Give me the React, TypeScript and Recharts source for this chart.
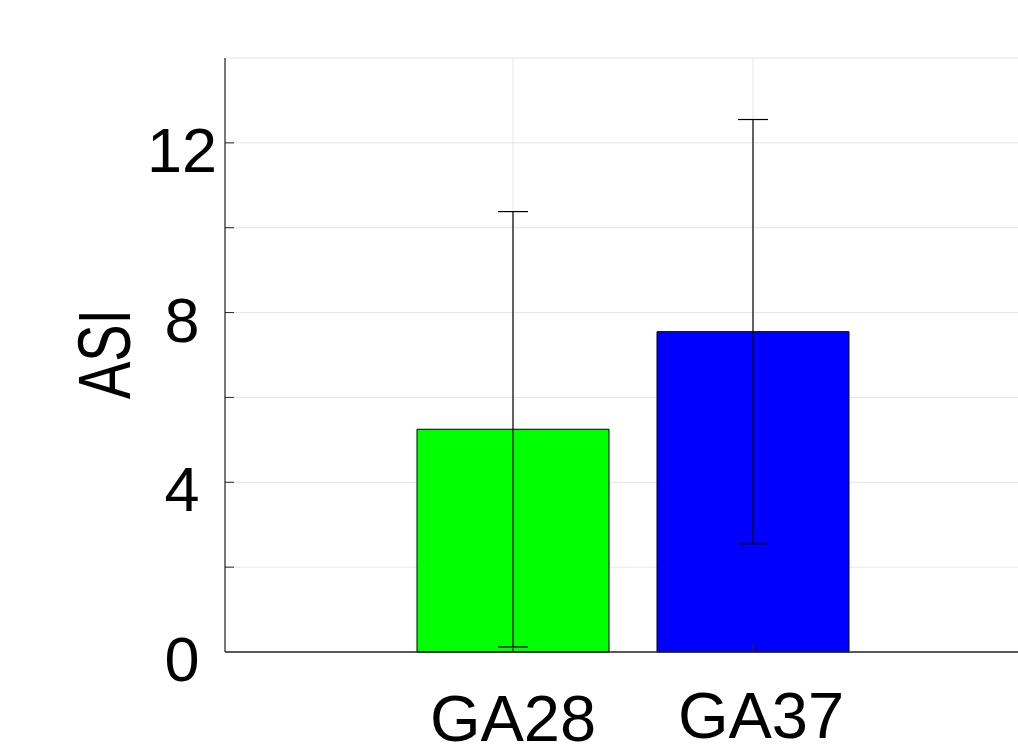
import { BarChart, Bar, XAxis, YAxis, CartesianGrid, ErrorBar, Cell } from "recharts";

const groups = ["GA28", "GA37"];
const asiMean = [5.25, 7.55];
const asiErr = [5.13, 5.0];
const barColors = ["#00ff00", "#0000ff"];
const yTicks = [0, 2, 4, 6, 8, 10, 12, 14];
const yLabeled = [0, 4, 8, 12];

const data = groups.map((name, i) => ({ name, asi: asiMean[i], err: asiErr[i] }));

const FONT = "'Liberation Sans', Arial, sans-serif";
const AXIS = "#262626";
const Y_MARGIN = 43;
const TICK_LEN = 9;

function YTick({ x, y, payload }: any) {
  const axisX = x + Y_MARGIN;
  const v = payload.value;
  return (
    <g>
      {v > 0 && v < 14 && <line x1={axisX} x2={axisX + TICK_LEN} y1={y} y2={y} stroke={AXIS} />}
      {yLabeled.includes(v) && (
        <text x={x} y={y} dy={7} textAnchor="middle" dominantBaseline="central" fontSize={63} fontFamily={FONT} fill="#000">
          {v}
        </text>
      )}
    </g>
  );
}

function XTick({ x, y, payload, index }: any) {
  // matlab put the second label a bit higher and to the right
  const dx = index === 1 ? 8 : 0;
  const dy = index === 1 ? 86 : 89;
  return (
    <g>
      <line x1={x} x2={x} y1={y} y2={y - TICK_LEN} stroke={AXIS} />
      <text x={x + dx} y={y + dy} textAnchor="middle" fontSize={65} fontFamily={FONT} fill="#000">
        {payload.value}
      </text>
    </g>
  );
}

function TopTick({ x, y }: any) {
  return <line x1={x} x2={x} y1={y} y2={y + TICK_LEN} stroke={AXIS} />;
}

function YLabel({ viewBox }: any) {
  const cx = viewBox.x + viewBox.width - 121;
  const cy = viewBox.y + viewBox.height / 2 - 1;
  // the reference label is squeezed, so fit it to its measured length
  return (
    <text
      x={cx}
      y={cy}
      transform={`rotate(-90, ${cx}, ${cy})`}
      textAnchor="middle"
      dominantBaseline="central"
      fontSize={74}
      fontFamily={FONT}
      textLength={90}
      lengthAdjust="spacingAndGlyphs"
      fill="#000"
    >
      ASI
    </text>
  );
}

export default function App() {
  return (
    <div style={{ position: "fixed", left: 0, top: 0, width: 1018, height: 746, overflow: "hidden", background: "#fff" }}>
      <BarChart width={1060} height={746} data={data} margin={{ top: 58, right: 19, bottom: 0, left: 0 }}>
        <CartesianGrid stroke="#e6e6e6" />
        <Bar dataKey="asi" barSize={192} stroke="#000" strokeWidth={1} isAnimationActive={false}>
          {data.map((d, i) => (
            <Cell key={d.name} fill={barColors[i]} />
          ))}
          <ErrorBar dataKey="err" width={15} stroke="#000" strokeWidth={1.2} isAnimationActive={false} />
        </Bar>
        <XAxis
          dataKey="name"
          padding={{ left: 168, right: 168 }}
          tickLine={false}
          tickSize={0}
          tickMargin={0}
          axisLine={{ stroke: AXIS, strokeWidth: 1.5 }}
          tick={<XTick />}
          height={94}
        />
        <XAxis
          xAxisId="top"
          orientation="top"
          dataKey="name"
          padding={{ left: 168, right: 168 }}
          tickLine={false}
          tickSize={0}
          tickMargin={0}
          axisLine={{ stroke: AXIS, strokeWidth: 1.5 }}
          tick={<TopTick />}
          height={0}
        />
        <YAxis
          domain={[0, 14]}
          ticks={yTicks}
          interval={0}
          width={225}
          tickLine={false}
          tickSize={0}
          tickMargin={Y_MARGIN}
          axisLine={{ stroke: AXIS, strokeWidth: 1.2 }}
          tick={<YTick />}
          label={<YLabel />}
        />
      </BarChart>
    </div>
  );
}
